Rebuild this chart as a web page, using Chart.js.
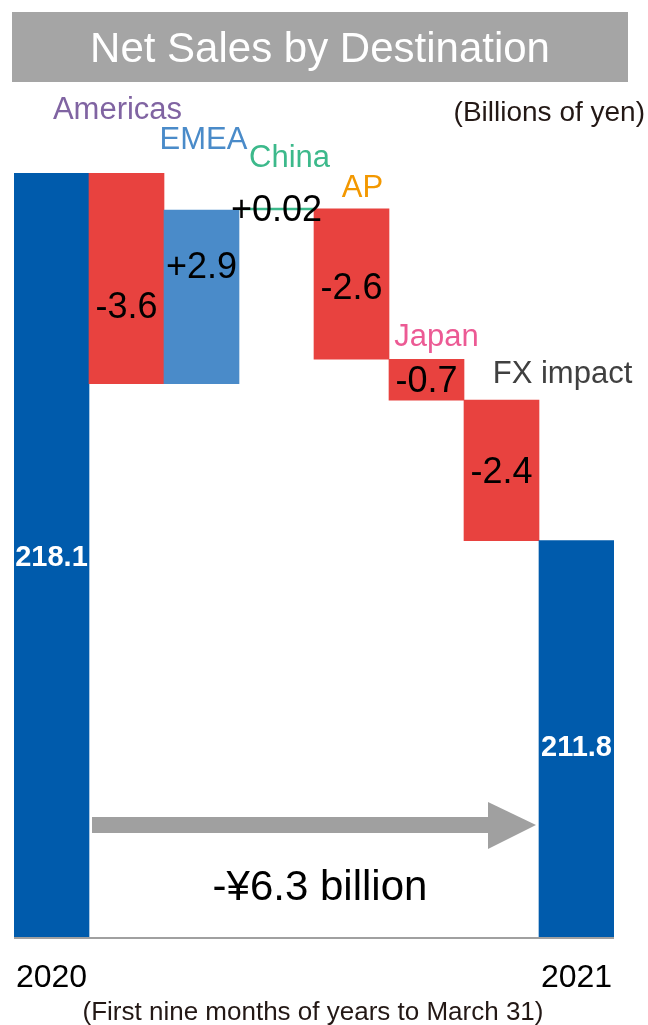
<!DOCTYPE html>
<html>
<head>
<meta charset="utf-8">
<script src="https://cdn.jsdelivr.net/npm/chart.js@4.4.0/dist/chart.umd.min.js"></script>
<style>
  body { margin: 0; background: #fff; }
  #wrap { width: 648px; height: 1025px; }
</style>
</head>
<body>
<div id="wrap"><canvas id="waterfall" width="648" height="1025"></canvas></div>
<script>
// data
const categories = ["2020", "Americas", "EMEA", "China", "AP", "Japan", "FX impact", "2021"];
const startTotal = 218.1;
const endTotal = 211.8;
const changes = [-3.61, 2.98, 0.02, -2.58, -0.70, -2.41];
const changeLabels = ["-3.6", "+2.9", "+0.02", "-2.6", "-0.7", "-2.4"];
const totalLabels = ["218.1", "211.8"];
const yMin = 205, yMax = 219.1;

// styles
const barColors = ["#005bac", "#e8423f", "#4a8bc9", "#3cb98b", "#e8423f", "#e8423f", "#e8423f", "#005bac"];
const nameColors = ["#8064a2", "#4a8bc9", "#3cb98b", "#f39800", "#ec5a94", "#404040"];
const FONT = "'Liberation Sans', Arial, sans-serif";

// floating bars for the waterfall
let running = startTotal;
const ranges = [[yMin, startTotal]];
changes.forEach(c => {
  ranges.push([running, running + c]);
  running += c;
});
ranges.push([yMin, endTotal]);

// label offsets (name: dx from bar centre, dy from bar top; value: dx, dy from bar middle)
const nameOffsets = [[-9, -66], [2, -73], [13, -53], [11, -23], [10, -25], [61, -29]];
const valueOffsets = [[0, 27], [0, -32], [0, -1], [0, 2], [0, -1], [0, 0]];

function txt(ctx, s, x, y, font, color, align) {
  ctx.font = font;
  ctx.fillStyle = color;
  ctx.textAlign = align || "center";
  ctx.textBaseline = "middle";
  ctx.fillText(s, x, y + 3);
}

const decor = {
  id: "decor",
  beforeDraw(chart) {
    const ctx = chart.ctx;
    ctx.save();
    ctx.fillStyle = "#a5a5a5";
    ctx.fillRect(12, 12, 616, 70);
    txt(ctx, "Net Sales by Destination", 320, 47, "42px " + FONT, "#ffffff");
    ctx.restore();
  },
  afterDatasetsDraw(chart) {
    const ctx = chart.ctx;
    const x = chart.scales.x, y = chart.scales.y;
    const area = chart.chartArea;
    const meta = chart.getDatasetMeta(0);
    ctx.save();

    // baseline
    ctx.strokeStyle = "#a0a0a0";
    ctx.lineWidth = 2;
    ctx.beginPath();
    ctx.moveTo(area.left, area.bottom + 1);
    ctx.lineTo(area.right, area.bottom + 1);
    ctx.stroke();

    // change labels and region names
    changes.forEach((c, i) => {
      const idx = i + 1;
      const cx = x.getPixelForValue(idx);
      const r = ranges[idx];
      const top = y.getPixelForValue(Math.max(r[0], r[1]));
      const mid = (y.getPixelForValue(r[0]) + y.getPixelForValue(r[1])) / 2;
      txt(ctx, categories[idx], cx + nameOffsets[i][0], top + nameOffsets[i][1], "31px " + FONT, nameColors[i]);
      txt(ctx, changeLabels[i], cx + valueOffsets[i][0], mid + valueOffsets[i][1], "36px " + FONT, "#000000");
    });

    // totals
    [0, categories.length - 1].forEach((idx, k) => {
      const cx = x.getPixelForValue(idx);
      const mid = (y.getPixelForValue(ranges[idx][1]) + area.bottom) / 2;
      txt(ctx, totalLabels[k], cx, mid + (k ? 6 : 0), "bold 29px " + FONT, "#ffffff");
      txt(ctx, categories[idx], cx, 975, "32px " + FONT, "#000000");
    });

    // arrow across the gap
    const bar1 = meta.data[1], barLast = meta.data[categories.length - 1];
    const x0 = bar1.x - bar1.width / 2 + 3;
    const tip = barLast.x - barLast.width / 2 - 3;
    const ay = 825;
    ctx.fillStyle = "#a0a0a0";
    ctx.fillRect(x0, ay - 8, tip - 48 - x0, 16);
    ctx.beginPath();
    ctx.moveTo(tip - 48, ay - 23);
    ctx.lineTo(tip, ay);
    ctx.lineTo(tip - 48, ay + 24);
    ctx.closePath();
    ctx.fill();

    txt(ctx, "-\u00a56.3 billion", 320, 885, "42px " + FONT, "#000000");
    txt(ctx, "(Billions of yen)", 645, 110, "28px " + FONT, "#231815", "right");
    txt(ctx, "(First nine months of years to March 31)", 313, 1010, "26px " + FONT, "#231815");
    ctx.restore();
  }
};

new Chart(document.getElementById("waterfall"), {
  type: "bar",
  data: {
    labels: categories,
    datasets: [{
      data: ranges,
      backgroundColor: barColors,
      borderColor: barColors,
      borderWidth: 0,
      borderSkipped: false,
      barPercentage: 1,
      categoryPercentage: 1,
      minBarLength: 2
    }]
  },
  options: {
    responsive: false,
    animation: false,
    layout: { padding: { left: 14, right: 34, top: 115, bottom: 88 } },
    plugins: {
      legend: { display: false },
      tooltip: { enabled: false }
    },
    scales: {
      x: { display: false },
      y: { display: false, min: yMin, max: yMax }
    }
  },
  plugins: [decor]
});
</script>
</body>
</html>
